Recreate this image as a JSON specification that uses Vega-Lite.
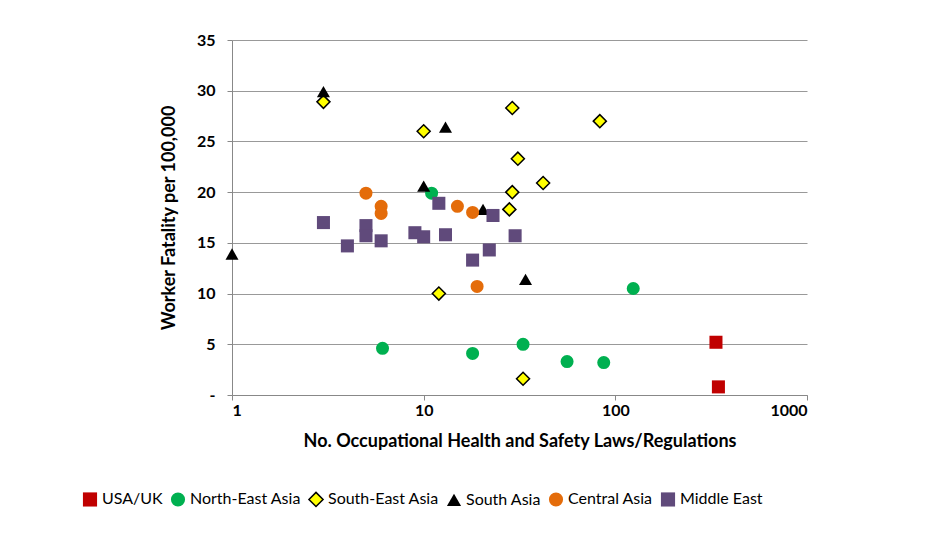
{
"$schema":"https://vega.github.io/schema/vega-lite/v6.json",
"width":575,"height":355,
"autosize":{"type":"none"},
"padding":{"left":232,"top":40,"right":133,"bottom":143},
"background":"white",
"config":{"font":"Lato","view":{"stroke":null}},
"data":{"values":[
{"r":"USA/UK","x":335,"y":5.2},{"r":"USA/UK","x":345,"y":0.8},
{"r":"North-East Asia","x":6.1,"y":4.6},{"r":"North-East Asia","x":18,"y":4.1},{"r":"North-East Asia","x":33,"y":5.0},{"r":"North-East Asia","x":56,"y":3.3},{"r":"North-East Asia","x":87,"y":3.2},{"r":"North-East Asia","x":124,"y":10.5},{"r":"North-East Asia","x":11,"y":19.9},
{"r":"South-East Asia","x":3,"y":28.9},{"r":"South-East Asia","x":10,"y":26},{"r":"South-East Asia","x":29,"y":28.3},{"r":"South-East Asia","x":83,"y":27},{"r":"South-East Asia","x":31,"y":23.3},{"r":"South-East Asia","x":29,"y":20},{"r":"South-East Asia","x":42,"y":20.9},{"r":"South-East Asia","x":28,"y":18.3},{"r":"South-East Asia","x":12,"y":10},{"r":"South-East Asia","x":33,"y":1.6},
{"r":"South Asia","x":1,"y":13.9},{"r":"South Asia","x":3,"y":29.9},{"r":"South Asia","x":10,"y":20.6},{"r":"South Asia","x":13,"y":26.4},{"r":"South Asia","x":20.4,"y":18.3},{"r":"South Asia","x":34,"y":11.4},
{"r":"Central Asia","x":5,"y":19.9},{"r":"Central Asia","x":6,"y":18.6},{"r":"Central Asia","x":6,"y":17.9},{"r":"Central Asia","x":15,"y":18.6},{"r":"Central Asia","x":18,"y":18},{"r":"Central Asia","x":19,"y":10.7},
{"r":"Middle East","x":3,"y":17},{"r":"Middle East","x":4,"y":14.7},{"r":"Middle East","x":5,"y":16.7},{"r":"Middle East","x":5,"y":15.7},{"r":"Middle East","x":6,"y":15.2},{"r":"Middle East","x":9,"y":16},{"r":"Middle East","x":10,"y":15.6},{"r":"Middle East","x":12,"y":18.9},{"r":"Middle East","x":13,"y":15.8},{"r":"Middle East","x":18,"y":13.3},{"r":"Middle East","x":22,"y":14.3},{"r":"Middle East","x":23,"y":17.7},{"r":"Middle East","x":30,"y":15.7}
]},
"mark":{"type":"point","filled":true,"opacity":1,"strokeWidth":1.5,"size":170},
"encoding":{
"x":{"field":"x","type":"quantitative","scale":{"type":"log","domain":[1,1000]},
 "axis":{"title":"No. Occupational Health and Safety Laws/Regulations","values":[1,10,100,1000],"format":"d","grid":false,"labelFontWeight":"bold","labelFontSize":16,"labelColor":"black","titleFontSize":18,"titleFontWeight":"bold","titleColor":"black","titlePadding":14,"domainColor":"#888","tickColor":"#888"}},
"y":{"field":"y","type":"quantitative","scale":{"domain":[0,35]},
 "axis":{"title":"Worker Fatality per 100,000","values":[0,5,10,15,20,25,30,35],"labelExpr":"datum.value==0?'-':datum.label","labelFontWeight":"bold","labelFontSize":16,"labelColor":"black","labelPadding":12,"titleFontSize":18,"titleFontWeight":"bold","titleColor":"black","titlePadding":18,"gridColor":"#999","domainColor":"#888","tickColor":"#888"}},
"color":{"field":"r","type":"nominal","sort":null,"scale":{"domain":["USA/UK","North-East Asia","South-East Asia","South Asia","Central Asia","Middle East"],"range":["#C00000","#00B050","#FFFF00","#000000","#E46C0A","#604A7B"]},
 "legend":{"title":null,"orient":"none","legendX":-150,"legendY":451,"direction":"horizontal","labelFontSize":16,"labelColor":"black","symbolSize":200,"columnPadding":4,"labelLimit":200}},
"shape":{"field":"r","type":"nominal","sort":null,"scale":{"domain":["USA/UK","North-East Asia","South-East Asia","South Asia","Central Asia","Middle East"],"range":["square","circle","diamond","triangle-up","circle","square"]}},
"stroke":{"field":"r","type":"nominal","sort":null,"scale":{"domain":["USA/UK","North-East Asia","South-East Asia","South Asia","Central Asia","Middle East"],"range":["transparent","transparent","black","transparent","transparent","transparent"]}}
}
}
